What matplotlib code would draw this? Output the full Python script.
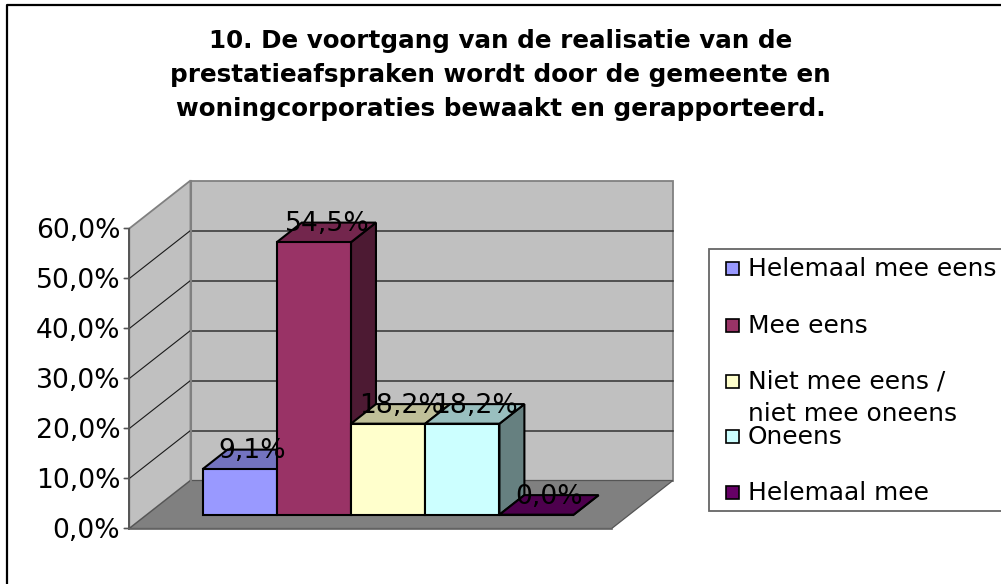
import matplotlib
matplotlib.use("Agg")
import matplotlib.pyplot as plt
from matplotlib.patches import Polygon, Rectangle

plt.rcParams['font.family'] = ['DejaVu Sans']

title = ("10. De voortgang van de realisatie van de\n"
         "prestatieafspraken wordt door de gemeente en\n"
         "woningcorporaties bewaakt en gerapporteerd.")
categories = ["Helemaal mee eens", "Mee eens", "Niet mee eens /\nniet mee oneens",
              "Oneens", "Helemaal mee"]
values = [9.1, 54.5, 18.2, 18.2, 0.0]
value_labels = ["9,1%", "54,5%", "18,2%", "18,2%", "0,0%"]
y_ticks = [0, 10, 20, 30, 40, 50, 60]
y_tick_labels = ["0,0%", "10,0%", "20,0%", "30,0%", "40,0%", "50,0%", "60,0%"]
front_cols = ["#9999FF", "#993366", "#FFFFCC", "#CCFFFF", "#660066"]
top_cols = ["#7373BF", "#73264D", "#BFBF99", "#99BFBF", "#4D004D"]
side_cols = ["#4D4D80", "#4D1A33", "#808066", "#668080", "#330033"]

W, H = 1001, 584
fig = plt.figure(figsize=(W / 100, H / 100), dpi=100, facecolor="white")

# page-level chrome, in pixels
page = fig.add_axes([0, 0, 1, 1], zorder=0)
page.set_xlim(0, W); page.set_ylim(H, 0); page.axis("off")
page.plot([7, 7, W + 5], [H + 5, 5, 5], color="black", lw=1.6, clip_on=False)
page.text(500.5, 75, title, ha="center", va="center", fontsize=17.7,
          fontweight="bold", linespacing=1.55, color="black")

# plot axes: the front plane of the 3D box
L, R, T, B = 129.3, 611.7, 228.5, 528.5
ax = fig.add_axes([L / W, 1 - B / H, (R - L) / W, (B - T) / H], zorder=1)
ax.set_xlim(-1.25, 5.25)
ax.set_ylim(0, 60)
ax.axis("off")
PX = (R - L) / 6.5          # pixels per category
PY = (B - T) / 60           # pixels per percent
DX, DY = 61.2 / PX, 48 / PY  # full depth, data units


def proj(x, v, d=0.0):
    return (x + d * DX, v + d * DY)


def face(pts, fc, ec, lw, z):
    ax.add_patch(Polygon([proj(*p) for p in pts], closed=True, fc=fc, ec=ec,
                         lw=lw, zorder=z, clip_on=False, joinstyle="miter"))


x0, x1 = ax.get_xlim()
ymax = y_ticks[-1]
wall = "#C0C0C0"
edge = "#808080"
face([(x0, 0, 1), (x1, 0, 1), (x1, ymax, 1), (x0, ymax, 1)], wall, edge, 1.3, 1)
face([(x0, 0, 0), (x0, 0, 1), (x0, ymax, 1), (x0, ymax, 0)], wall, edge, 1.3, 1)
face([(x0, 0, 0), (x1, 0, 0), (x1, 0, 1), (x0, 0, 1)], edge, "#555555", 0.9, 2)

for t, lab in zip(y_ticks, y_tick_labels):
    if 0 < t < ymax:
        xs, ys = zip(proj(x0, t, 0), proj(x0, t, 1))
        ax.plot(xs, ys, color="#1A1A1A", lw=0.8, zorder=3, clip_on=False)
        xs, ys = zip(proj(x0, t, 1), proj(x1, t, 1))
        ax.plot(xs, ys, color="#333333", lw=1.1, zorder=3, clip_on=False)
    ax.annotate("", xy=(x0, t), xytext=(-5, 0), textcoords="offset pixels",
                arrowprops=dict(arrowstyle="-", color="#555555", lw=1.2, shrinkA=0, shrinkB=0),
                annotation_clip=False, zorder=4)
    ax.annotate(lab, xy=(x0, t), xytext=(-9, -2.5), textcoords="offset pixels",
                ha="right", va="center", fontsize=19.2, color="black",
                annotation_clip=False, zorder=6)
xs, ys = zip(proj(x0, 0, 1), proj(x0, ymax, 1))
ax.plot(xs, ys, color=edge, lw=1.5, zorder=3, clip_on=False)
ax.plot([x0, x0], [0, ymax], color="#555555", lw=1.4, zorder=4, clip_on=False)
ax.plot([x0, x1], [0, 0], color="#666666", lw=1.2, zorder=4, clip_on=False)

# bars
d0, d1 = 0.2875, 0.2875 + 0.408
half = 0.5
for i, v in enumerate(values):
    z = 10 + i
    a, b = i - half, i + half
    face([(b, 0, d0), (b, 0, d1), (b, v, d1), (b, v, d0)], side_cols[i], "black", 1.5, z)
    face([(a, v, d0), (b, v, d0), (b, v, d1), (a, v, d1)], top_cols[i], "black", 1.5, z)
    face([(a, 0, d0), (b, 0, d0), (b, v, d0), (a, v, d0)], front_cols[i], "black", 1.5, z)

for i, (v, s) in enumerate(zip(values, value_labels)):
    ax.annotate(s, xy=proj(i, v, d0), xytext=(13, 18), textcoords="offset pixels",
                ha="center", va="center", fontsize=19.2, color="black",
                annotation_clip=False, zorder=30)

# legend
page.add_patch(Rectangle((709, 249), 300, 262, fc="white", ec="#666666", lw=1.3,
                         clip_on=True, zorder=5))
swatch_y = [268.5, 325, 381, 436, 492]
text_y = [269, 326, 398, 437, 493]
for c, col, sy, ty in zip(categories, front_cols, swatch_y, text_y):
    page.add_patch(Rectangle((725.5, sy - 6.5), 13.5, 13, fc=col, ec="black", lw=1.2, zorder=6))
    page.text(748, ty, c, ha="left", va="center", fontsize=17.9,
              linespacing=1.47, color="black", zorder=6)

fig.savefig("out.png", dpi=100, facecolor="white")
